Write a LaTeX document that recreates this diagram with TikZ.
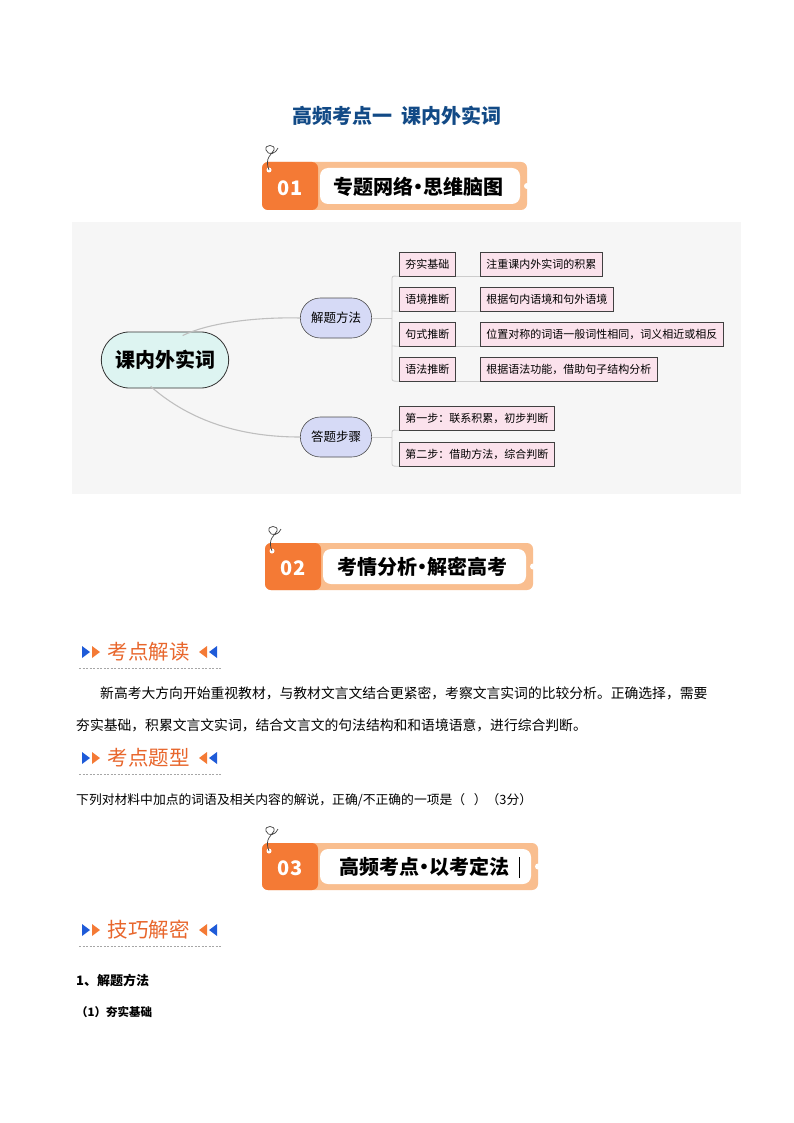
\documentclass[tikz,border=0pt]{standalone}
\usepackage{fontspec}
\setmainfont{Noto Sans CJK SC}
\usetikzlibrary{shapes.misc,calc}
\definecolor{orgA}{HTML}{F47A35}
\definecolor{orgL}{HTML}{F9BE8F}
\definecolor{orgT}{HTML}{E8662C}
\definecolor{ttl}{HTML}{124A86}
\definecolor{mmbg}{HTML}{F6F6F6}
\definecolor{rootc}{HTML}{DDF4F1}
\definecolor{midc}{HTML}{D6DAF6}
\definecolor{pinkc}{HTML}{FBE2EC}
\definecolor{hdblue}{HTML}{1E5BD8}
\tikzset{
  rootn/.style={draw=black!80,fill=rootc,rounded rectangle,minimum width=134pt,minimum height=56pt,font=\fontsize{20}{22}\selectfont\bfseries,line width=0.8pt},
  midn/.style={draw=black!70,fill=midc,rounded rectangle,minimum width=78pt,minimum height=40pt,font=\fontsize{12.5}{14}\selectfont,line width=0.6pt},
  leafn/.style={draw=black!75,fill=pinkc,minimum height=24pt,inner xsep=6pt,anchor=west,font=\fontsize{11}{13}\selectfont,line width=0.6pt},
  conn/.style={draw=black!25,line width=1.1pt},
  brk/.style={draw=black!20,line width=0.8pt},
  hdtext/.style={text=orgT,font=\fontsize{20.5}{22}\selectfont,anchor=west},
  body/.style={font=\fontsize{13.8}{15}\selectfont,anchor=west,inner sep=0pt},
  bant/.style={font=\fontsize{20}{22}\selectfont\bfseries},
}
\newcommand{\banner}[5]{% x0,y0,x1,y1,text
  \begin{scope}
  \fill[orgL,rounded corners=6pt] (#1,#2) rectangle (#3,#4);
  \fill[orgA,rounded corners=6pt] (#1,#2) rectangle (#1+56,#4);
  \fill[white,rounded corners=8pt] (#1+58,#2+6) rectangle (#3-7,#4-6);
  \fill[white] (#3,{(#2+#4)/2}) circle (3pt);
  \fill[white] (#1+7,#2+8) circle (2.5pt);
  \node[text=white,font=\fontsize{20}{22}\selectfont\bfseries] at (#1+28,{(#2+#4)/2+2}) {0#5};
  \draw[black!75,line width=0.7pt] (#1+7,#2+8) .. controls (#1+2,#2-4) and (#1+10,#2-8) .. (#1+12,#2-12) .. controls (#1+14,#2-18) and (#1+2,#2-18) .. (#1+4,#2-12) .. controls (#1+6,#2-6) and (#1+14,#2-8) .. (#1+16,#2-14);
  \end{scope}}
\newcommand{\hdmark}[3]{% x,y,text
  \fill[hdblue] (#1,#2-6) -- (#1+8,#2) -- (#1,#2+6) -- cycle;
  \fill[orgA] (#1+10,#2-6) -- (#1+18,#2) -- (#1+10,#2+6) -- cycle;
  \node[hdtext] (#3) at (#1+22,#2) {#3};
  \fill[orgA] (#3.east) ++(14,-6) -- ++(-8,6) -- ++(8,6) -- cycle;
  \fill[hdblue] (#3.east) ++(24,-6) -- ++(-8,6) -- ++(8,6) -- cycle;
  \draw[black!35,dash pattern=on 2pt off 1.5pt,line width=0.6pt] (#1-3,#2+16) -- ($(#3.east)+(28,16)$);}
\newcommand{\bdot}{\hspace{-0.25em}•\hspace{-0.25em}}
\begin{document}
\begin{tikzpicture}[x=1pt,y=-1pt]
\useasboundingbox[fill=white] (0,0) rectangle (794,1123);
\node[text=ttl,font=\fontsize{20}{22}\selectfont\bfseries] (title) at (397,116) {高频考点一\ \ 课内外实词};

\banner{262}{162}{527}{210}{1}
\node[bant] (b1) at (418,187) {专题网络\bdot 思维脑图};

% mind map
\fill[mmbg] (72,222) rectangle (741,494);
\node[rootn] (root) at (165,360) {课内外实词};
\node[midn] (m1) at (336,318) {解题方法};
\node[midn] (m2) at (336,437) {答题步骤};
\draw[conn] (root.north east) ++(-18,4) coordinate (r1) .. controls (210,322) and (260,317) .. (m1.west);
\draw[conn] (root.south east) ++(-50,-2) coordinate (r2) .. controls (200,430) and (260,437) .. (m2.west);
\node[leafn] (a1) at (399,264) {夯实基础};
\node[leafn] (a2) at (399,299) {语境推断};
\node[leafn] (a3) at (399,334) {句式推断};
\node[leafn] (a4) at (399,369) {语法推断};
\node[leafn] (c1) at (480,264) {注重课内外实词的积累};
\node[leafn] (c2) at (480,299) {根据句内语境和句外语境};
\node[leafn] (c3) at (480,334) {位置对称的词语一般词性相同，词义相近或相反};
\node[leafn] (c4) at (480,369) {根据语法功能，借助句子结构分析};
\node[leafn] (s1) at (399,418) {第一步：联系积累，初步判断};
\node[leafn] (s2) at (399,454) {第二步：借助方法，综合判断};
\draw[brk] (m1.east) -- (392,318);
\draw[brk,rounded corners=2pt] (a1.south west) -- (392,276) -- (392,381) -- (a4.south west);
\draw[brk] (392,311) -- (a2.south west);
\draw[brk] (392,346) -- (a3.south west);
\draw[brk] (a1.south east) -- (c1.south west);
\draw[brk] (a2.south east) -- (c2.south west);
\draw[brk] (a3.south east) -- (c3.south west);
\draw[brk] (a4.south east) -- (c4.south west);
\draw[brk] (m2.east) -- (392,437);
\draw[brk,rounded corners=2pt] (s1.south west) -- (392,430) -- (392,466) -- (s2.south west);

\banner{265}{543}{533}{590}{2}
\node[bant] (b2) at (422,567) {考情分析\bdot 解密高考};

\hdmark{82}{652}{考点解读}
\node[body] (p1) at (100,693) {新高考大方向开始重视教材，与教材文言文结合更紧密，考察文言实词的比较分析。正确选择，需要};
\node[body] (p2) at (76,725) {夯实基础，积累文言文实词，结合文言文的句法结构和和语境语意，进行综合判断。};
\hdmark{82}{758}{考点题型}
\node[body,font=\fontsize{12.8}{14}\selectfont] (q) at (76,800) {下列对材料中加点的词语及相关内容的解说，正确/不正确的一项是（\ \ \ ）（3分）};

\banner{262}{843}{538}{890}{3}
\node[bant] (b3) at (424,867) {高频考点\bdot 以考定法};
\draw[line width=1pt] (519,857) -- (519,878);

\hdmark{82}{930}{技巧解密}
\node[body,font=\fontsize{13}{15}\selectfont\bfseries] (h1) at (76,980) {1、解题方法};
\node[body,font=\fontsize{11.5}{13}\selectfont\bfseries] (h2) at (76,1012) {（1）夯实基础};
\end{tikzpicture}
\end{document}
